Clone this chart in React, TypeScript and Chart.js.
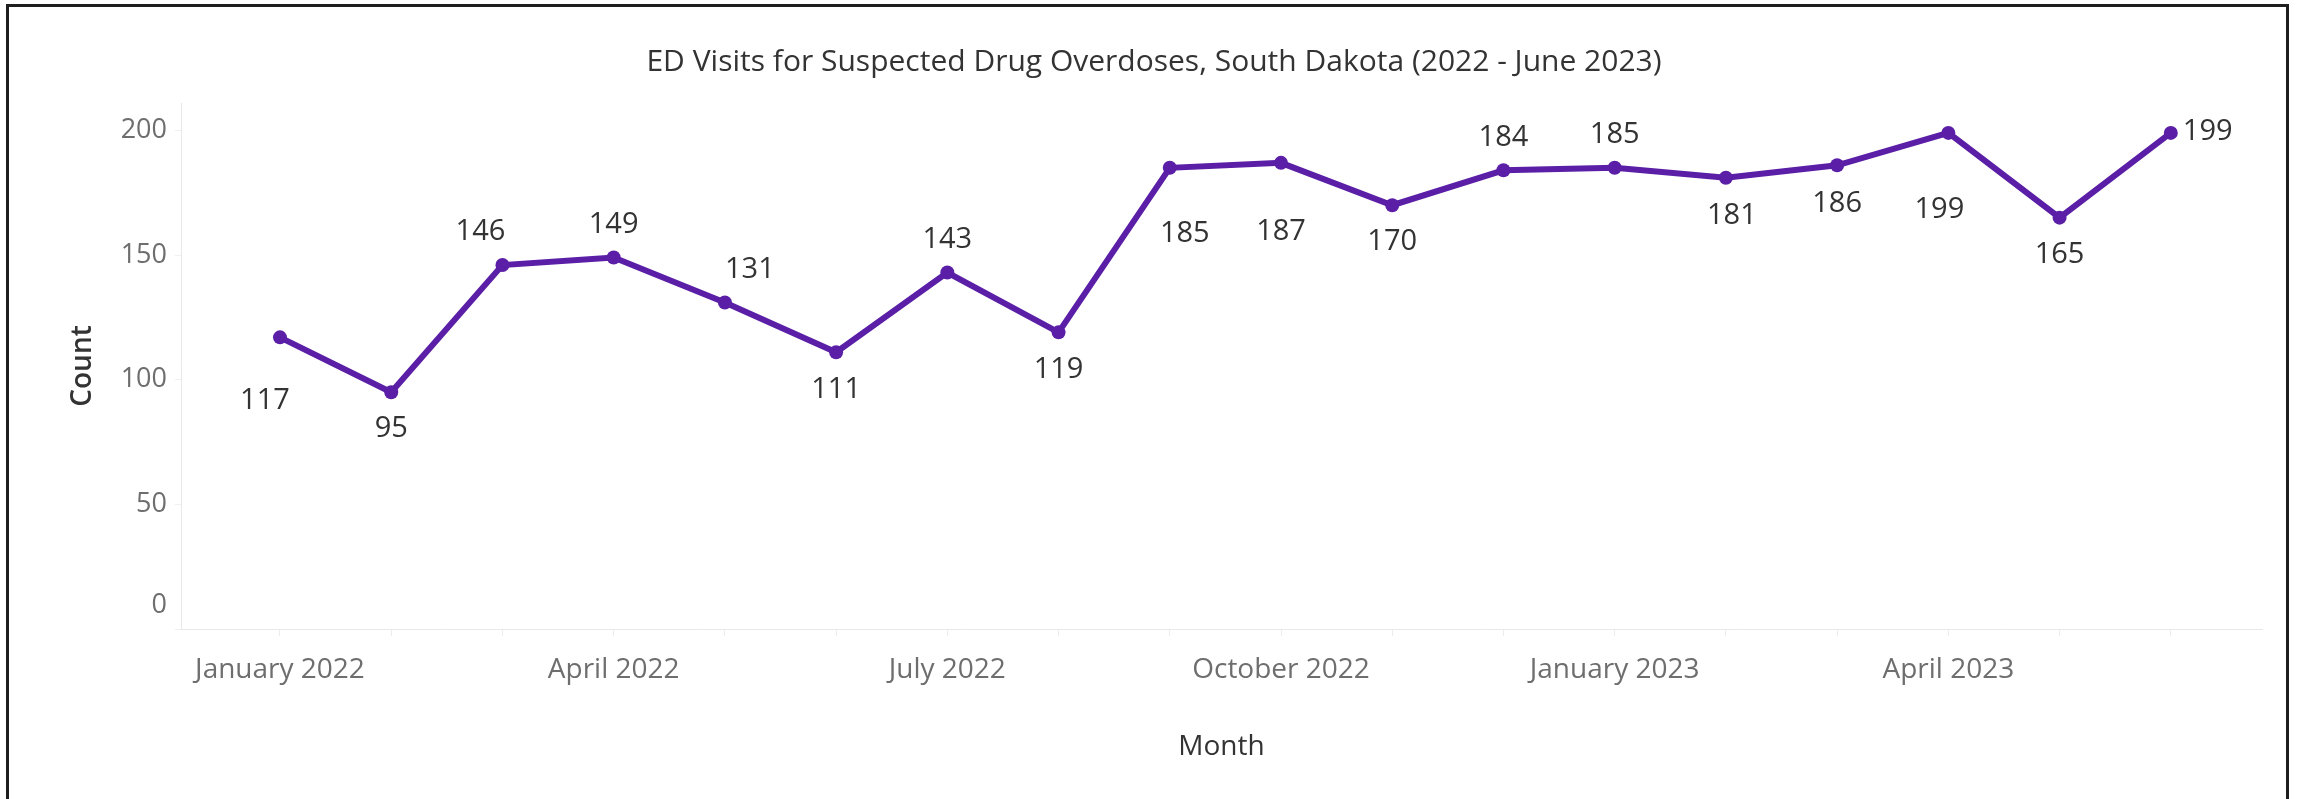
import React, { useEffect, useRef } from 'react';
import { Chart, registerables } from 'chart.js';

Chart.register(...registerables);

const months = [
  'January 2022', 'February 2022', 'March 2022', 'April 2022', 'May 2022', 'June 2022',
  'July 2022', 'August 2022', 'September 2022', 'October 2022', 'November 2022', 'December 2022',
  'January 2023', 'February 2023', 'March 2023', 'April 2023', 'May 2023', 'June 2023',
];
const counts = [117, 95, 146, 149, 131, 111, 143, 119, 185, 187, 170, 184, 185, 181, 186, 199, 165, 199];
const xTickLabels = ['January 2022', 'April 2022', 'July 2022', 'October 2022', 'January 2023', 'April 2023'];
const yTickValues = [0, 50, 100, 150, 200];

const TITLE = 'ED Visits for Suspected Drug Overdoses, South Dakota (2022 - June 2023)';
const Y_TITLE = 'Count';
const X_TITLE = 'Month';

// label offset (px) from each point: [dx, dy]; 'right' placement for the last one
const labelOffsets: [number, number][] = [
  [-15, 63], [0, 37], [-22, -33], [0, -33], [25, -33], [0, 37], [0, -33], [0, 37], [15, 66],
  [0, 69], [0, 37], [0, -33], [0, -33], [6, 38], [0, 38], [-9, 77], [0, 37], [12, -1],
];
const rightAligned = [17];

const PURPLE = '#5a1fa6';
const FONT = "'Open Sans', 'Noto Sans', sans-serif";

const valueLabelPlugin = {
  id: 'valueLabels',
  afterDatasetsDraw(chart: any) {
    const ctx = chart.ctx;
    const meta = chart.getDatasetMeta(0);
    ctx.save();
    ctx.font = `29px ${FONT}`;
    ctx.fillStyle = '#333333';
    ctx.textBaseline = 'middle';
    meta.data.forEach((pt: any, i: number) => {
      const [dx, dy] = labelOffsets[i] || [0, -33];
      ctx.textAlign = rightAligned.includes(i) ? 'left' : 'center';
      ctx.fillText(String(counts[i]), pt.x + dx, pt.y + dy);
    });
    ctx.restore();
  },
};

const zeroLabelPlugin = {
  id: 'zeroLabelLift',
  beforeDraw(chart: any) {
    const ys = chart.scales.y;
    if (!ys || !ys.getLabelItems) return;
    const items = ys.getLabelItems();
    items.forEach((it: any) => {
      if (String(it.label) === '0' && !it.__lifted) {
        it.options.translation[1] -= 24;
        it.__lifted = true;
      }
    });
  },
};

export default function App() {
  const canvasRef = useRef<HTMLCanvasElement | null>(null);

  useEffect(() => {
    if (!canvasRef.current) return;
    const chart = new Chart(canvasRef.current, {
      type: 'line',
      data: {
        datasets: [
          {
            label: 'Count',
            data: counts.map((v, i) => ({ x: i, y: v })),
            borderColor: PURPLE,
            backgroundColor: PURPLE,
            borderWidth: 6,
            pointRadius: 7,
            pointBorderWidth: 0,
            pointBackgroundColor: PURPLE,
            tension: 0,
          },
        ],
      },
      options: {
        responsive: false,
        devicePixelRatio: 1,
        animation: false,
        layout: { padding: { left: 46, right: 38, top: 0, bottom: 0 } },
        plugins: {
          legend: { display: false },
          tooltip: { enabled: false },
          title: {
            display: true,
            text: TITLE,
            color: '#333333',
            font: { family: FONT, size: 30, weight: 'normal' },
            padding: { top: 44, bottom: 23 },
          },
        },
        scales: {
          x: {
            type: 'linear',
            min: -0.89,
            max: 17.82,
            afterBuildTicks: (scale: any) => {
              scale.ticks = months.map((_, i) => ({ value: i }));
            },
            afterFit: (scale: any) => {
              scale.height = 170;
            },
            ticks: {
              autoSkip: false,
              maxRotation: 0,
              padding: 17,
              color: '#6e6e6e',
              font: { family: FONT, size: 28 },
              callback: (v: any) => {
                const m = months[Number(v)];
                return xTickLabels.includes(m) ? m : '';
              },
            },
            grid: {
              drawOnChartArea: false,
              drawTicks: true,
              tickLength: 7,
              color: '#ededed',
            },
            border: { display: true, color: '#e8e8e8', width: 1 },
            title: {
              display: true,
              text: X_TITLE,
              color: '#333333',
              font: { family: FONT, size: 28, weight: '500' },
              padding: { top: 0, bottom: 35 },
            },
          },
          y: {
            type: 'linear',
            min: 0,
            max: 211,
            afterBuildTicks: (scale: any) => {
              scale.ticks = yTickValues.map((v) => ({ value: v }));
            },
            afterFit: (scale: any) => {
              scale.width = 135;
            },
            ticks: {
              padding: 8,
              color: '#6e6e6e',
              font: { family: FONT, size: 27 },
            },
            grid: {
              drawOnChartArea: false,
              drawTicks: true,
              tickLength: 6,
              color: '#efefef',
            },
            border: { display: true, color: '#e8e8e8', width: 1 },
            title: {
              display: true,
              text: Y_TITLE,
              color: '#333333',
              font: { family: FONT, size: 28, weight: '600' },
              padding: { top: 20, bottom: 0 },
            },
          },
        },
      } as any,
      plugins: [valueLabelPlugin, zeroLabelPlugin],
    });
    return () => chart.destroy();
  }, []);

  return (
    <div
      style={{
        position: 'absolute',
        left: 0,
        top: 0,
        width: 2300,
        height: 799,
        overflow: 'hidden',
        background: '#ffffff',
      }}
    >
      <canvas
        ref={canvasRef}
        width={2300}
        height={799}
        style={{ position: 'absolute', left: 0, top: 0, width: 2300, height: 799 }}
      />
      <div
        style={{
          position: 'absolute',
          left: 6,
          top: 4,
          width: 2283,
          height: 900,
          border: '3px solid #1e1e1e',
          boxSizing: 'border-box',
          pointerEvents: 'none',
        }}
      />
    </div>
  );
}
